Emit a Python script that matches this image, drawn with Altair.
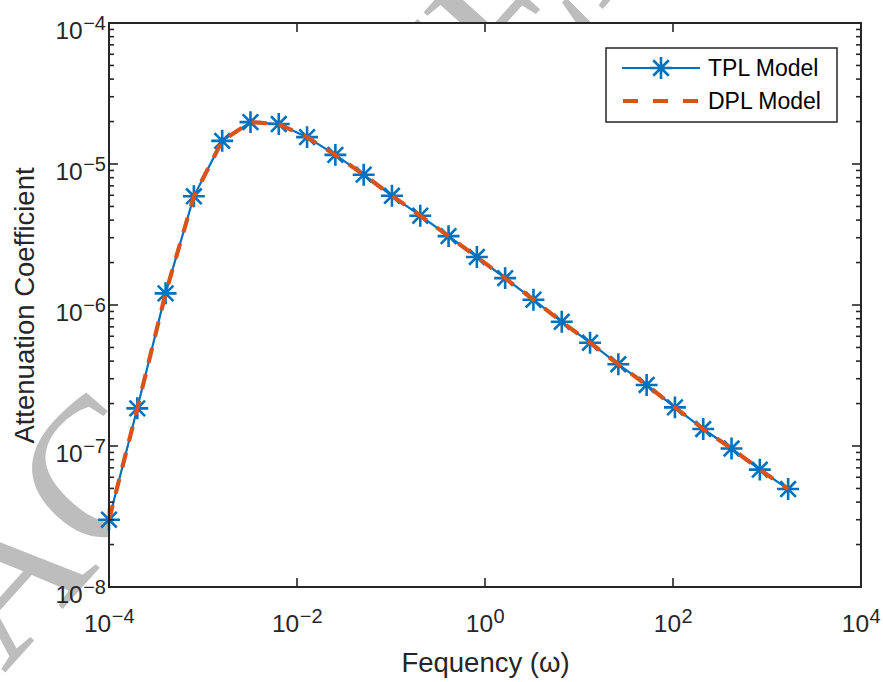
import altair as alt
import pandas as pd

# ---------------- data ----------------
freq = [0.0001, 0.0002, 0.0004, 0.0008, 0.0016, 0.0032, 0.0064, 0.0128, 0.0256,
        0.0512, 0.1024, 0.2048, 0.4096, 0.8192, 1.6384, 3.2768, 6.5536, 13.1072,
        26.2144, 52.4288, 104.8576, 209.7152, 419.4304, 838.8608, 1677.7216]
tpl = [3.0e-8, 1.85e-7, 1.21e-6, 5.9e-6, 1.46e-5, 1.98e-5, 1.92e-5, 1.55e-5, 1.16e-5,
       8.4e-6, 5.95e-6, 4.3e-6, 3.08e-6, 2.19e-6, 1.55e-6, 1.09e-6, 7.6e-7, 5.4e-7,
       3.8e-7, 2.71e-7, 1.88e-7, 1.32e-7, 9.6e-8, 6.8e-8, 4.95e-8]
dpl = [3.0e-8, 1.85e-7, 1.21e-6, 5.9e-6, 1.46e-5, 1.98e-5, 1.92e-5, 1.55e-5, 1.16e-5,
       8.4e-6, 5.95e-6, 4.3e-6, 3.08e-6, 2.19e-6, 1.55e-6, 1.09e-6, 7.6e-7, 5.4e-7,
       3.8e-7, 2.71e-7, 1.88e-7, 1.32e-7, 9.6e-8, 6.8e-8, 4.95e-8]

x_ticks = [1e-4, 1e-2, 1, 1e2, 1e4]
x_tick_exp = ["\u22124", "\u22122", "0", "2", "4"]
y_ticks = [1e-8, 1e-7, 1e-6, 1e-5, 1e-4]
y_tick_exp = ["\u22128", "\u22127", "\u22126", "\u22125", "\u22124"]
tick_base = "10"
minor_mult = [2, 3, 4, 5, 6, 7, 8, 9]
legend_labels = ["TPL Model", "DPL Model"]
x_title = "Fequency (\u03c9)"
y_title = "Attenuation Coefficient"
watermark = "ACCEPTED MANUSCRIPT"

# ---------------- styling ----------------
W, H = 752, 564
FONT = "Liberation Sans, Arial, Helvetica, sans-serif"
AX = "#262626"
BLUE = "#0072BD"
ORANGE = "#D95319"
ASTERISK = "M-1,0L1,0M0,-1L0,1M-0.71,-0.71L0.71,0.71M-0.71,0.71L0.71,-0.71"
MSIZE = 480
BASE_FS, EXP_FS = 24.5, 20
BASE_W = 1.112 * BASE_FS               # width of "10"
EXP_W_NEG = (0.584 + 0.556) * EXP_FS   # width of "−n"
EXP_W_POS = 0.556 * EXP_FS             # width of "n"

xs = alt.Scale(type="log", domain=[1e-4, 1e4], nice=False)
ys = alt.Scale(type="log", domain=[1e-8, 1e-4], nice=False)

xaxis = alt.Axis(values=x_ticks, labels=False, title=x_title, grid=False, ticks=False,
                 tickSize=0, domain=False,
                 titleFont=FONT, titleFontSize=27.5, titleColor=AX, titleFontWeight="normal",
                 titleX=W / 2, titleY=84, titleBaseline="alphabetic", titleAlign="center")
yaxis = alt.Axis(values=y_ticks, labels=False, title=y_title, grid=False, ticks=False,
                 tickSize=0, domain=False,
                 titleFont=FONT, titleFontSize=27.5, titleColor=AX, titleFontWeight="normal",
                 titleX=-76, titleY=H / 2, titleAngle=270, titleBaseline="alphabetic",
                 titleAlign="center")

df = pd.DataFrame({"freq": freq, "tpl": tpl, "dpl": dpl})
one = pd.DataFrame({"k": [0]})

X = lambda f: alt.X(f, scale=xs, axis=xaxis)
Y = lambda f: alt.Y(f, scale=ys, axis=yaxis)

# watermark (sits behind the white plot area)
wm = alt.Chart(one).mark_text(text=watermark, font="Liberation Serif, serif", fontSize=200,
                              angle=312, align="left", baseline="alphabetic",
                              fill="#bdbdbd").encode(x=alt.value(-105), y=alt.value(651))
plot_bg = alt.Chart(one).mark_rect(fill="white").encode(
    x=alt.value(0), x2=alt.value(W), y=alt.value(0), y2=alt.value(H))

tpl_line = alt.Chart(df).mark_line(color=BLUE, strokeWidth=2.2).encode(
    x=X("freq:Q"), y=Y("tpl:Q"))
tpl_pts = alt.Chart(df).mark_point(shape=ASTERISK, size=MSIZE, filled=False, stroke=BLUE,
                                   strokeWidth=2.6, opacity=1).encode(
    x=X("freq:Q"), y=Y("tpl:Q"))
dpl_line = alt.Chart(df).mark_line(color=ORANGE, strokeWidth=4.2, strokeDash=[15, 12]).encode(
    x=X("freq:Q"), y=Y("dpl:Q"))

# ticks (inward, MATLAB style)
y_major = pd.DataFrame({"tpl": y_ticks})
y_minor = pd.DataFrame({"tpl": [m * t for t in y_ticks[:-1] for m in minor_mult]})
x_major = pd.DataFrame({"freq": x_ticks})


def yrule(d, x0, x1):
    return alt.Chart(d).mark_rule(color=AX, strokeWidth=1.6).encode(
        y=Y("tpl:Q"), x=alt.value(x0), x2=alt.value(x1))


def xrule(d, y0, y1):
    return alt.Chart(d).mark_rule(color=AX, strokeWidth=1.6).encode(
        x=X("freq:Q"), y=alt.value(y0), y2=alt.value(y1))


ticks = [yrule(y_major, 0, 9), yrule(y_major, W - 9, W),
         yrule(y_minor, 0, 5), yrule(y_minor, W - 5, W),
         xrule(x_major, H - 9, H), xrule(x_major, 0, 9)]

# tick labels: "10" with a raised exponent
xl = pd.DataFrame({"freq": x_ticks, "base": [tick_base] * len(x_ticks), "exp": x_tick_exp})
yl = pd.DataFrame({"tpl": y_ticks, "base": [tick_base] * len(y_ticks), "exp": y_tick_exp})
tick_labels = []
for cond, ew in (("datum.freq < 1", EXP_W_NEG), ("datum.freq >= 1", EXP_W_POS)):
    off = BASE_W / 2 - ew / 2
    tick_labels.append(alt.Chart(xl).transform_filter(cond).mark_text(
        font=FONT, fontSize=BASE_FS, color=AX, align="right", baseline="alphabetic",
        dx=off).encode(x=X("freq:Q"), y=alt.value(H + 45), text="base:N"))
    tick_labels.append(alt.Chart(xl).transform_filter(cond).mark_text(
        font=FONT, fontSize=EXP_FS, color=AX, align="left", baseline="alphabetic",
        dx=off + 0.5).encode(x=X("freq:Q"), y=alt.value(H + 36), text="exp:N"))
tick_labels.append(alt.Chart(yl).mark_text(
    font=FONT, fontSize=BASE_FS, color=AX, align="right", baseline="alphabetic",
    dx=-3 - EXP_W_NEG - 0.5, dy=15.5).encode(x=alt.value(0), y=Y("tpl:Q"), text="base:N"))
tick_labels.append(alt.Chart(yl).mark_text(
    font=FONT, fontSize=EXP_FS, color=AX, align="right", baseline="alphabetic",
    dx=-3, dy=6.5).encode(x=alt.value(0), y=Y("tpl:Q"), text="exp:N"))

box = alt.Chart(one).mark_rect(fillOpacity=0, stroke=AX, strokeWidth=2).encode(
    x=alt.value(0), x2=alt.value(W), y=alt.value(0), y2=alt.value(H))

# legend
LX0, LX1, LY0, LY1 = 497, 728, 25, 99
leg_box = alt.Chart(one).mark_rect(fill="white", stroke=AX, strokeWidth=1.5).encode(
    x=alt.value(LX0), x2=alt.value(LX1), y=alt.value(LY0), y2=alt.value(LY1))
leg_l1 = alt.Chart(one).mark_rule(color=BLUE, strokeWidth=2.2).encode(
    x=alt.value(513), x2=alt.value(591), y=alt.value(45))
leg_p1 = alt.Chart(one).mark_point(shape=ASTERISK, size=MSIZE, filled=False, stroke=BLUE,
                                   strokeWidth=2.6, opacity=1).encode(
    x=alt.value(552), y=alt.value(45))
leg_l2 = alt.Chart(one).mark_rule(color=ORANGE, strokeWidth=4.2, strokeDash=[15, 15]).encode(
    x=alt.value(514), x2=alt.value(591), y=alt.value(78))
leg_t1 = alt.Chart(one).mark_text(text=legend_labels[0], font=FONT, fontSize=23, color="black",
                                  align="left", baseline="middle").encode(
    x=alt.value(599), y=alt.value(46))
leg_t2 = alt.Chart(one).mark_text(text=legend_labels[1], font=FONT, fontSize=23, color="black",
                                  align="left", baseline="middle").encode(
    x=alt.value(599), y=alt.value(79))

chart = alt.layer(wm, plot_bg, tpl_line, tpl_pts, dpl_line, *ticks, *tick_labels, box,
                  leg_box, leg_l1, leg_p1, leg_l2, leg_t1, leg_t2).properties(
    width=W, height=H,
    padding={"left": 109, "top": 23, "right": 22, "bottom": 95},
    autosize=alt.AutoSizeParams(type="none"),
    background="white",
).configure_view(stroke=None)

chart.save("out.html", embed_options={"renderer": "svg", "actions": False})
